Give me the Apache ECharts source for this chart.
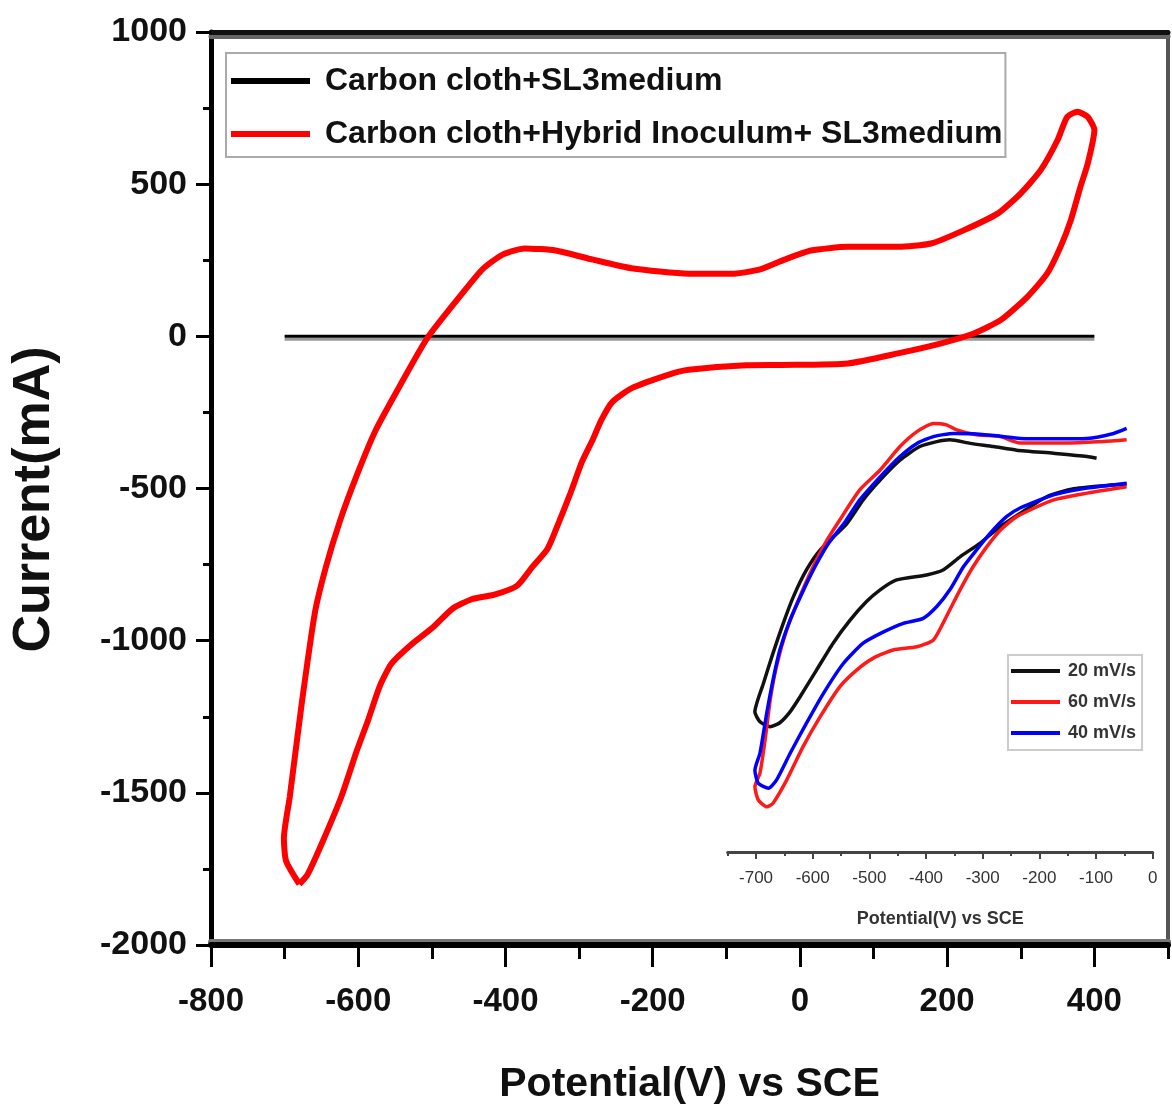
<!DOCTYPE html>
<html><head><meta charset="utf-8">
<script src="https://cdn.jsdelivr.net/npm/echarts@6/dist/echarts.min.js"></script>
<style>html,body{margin:0;padding:0;background:#fff}#c{width:1172px;height:1114px}</style>
</head><body><div id="c"></div>
<script>
const WIDE = '"Liberation Sans",Arial,sans-serif';

// ---- main chart data (Potential mV, Current mA) ----
const mainNames = ['Carbon cloth+SL3medium', 'Carbon cloth+Hybrid Inoculum+ SL3medium'];
const blackMain = [[-700,0],[-650,0],[-600,0],[-500,0],[-400,0],[-300,0],[-200,0],[-100,0],[0,0],[100,0],[200,0],[300,0],[400,0]];
const redMain = [
  [-680,-1800],[-698,-1724],[-701,-1649],[-693,-1513],[-677,-1211],[-659,-910],[-644,-759],[-625,-608],
  [-602,-457],[-576,-307],[-542,-156],[-506,-5],[-457,146],[-431,221],[-405,267],[-374,289],[-332,282],
  [-281,252],[-229,224],[-151,206],[-89,206],[-53,221],[-21,252],[15,282],[65,294],[133,294],[178,305],
  [223,349],[269,404],[300,470],[327,546],[350,645],[363,721],[377,738],[391,721],[400,678],[391,568],
  [381,491],[368,382],[354,294],[336,207],[309,130],[273,54],[237,10],[192,-23],[133,-56],[65,-89],
  [-25,-94],[-73,-95],[-151,-110],[-177,-125],[-229,-171],[-255,-216],[-270,-276],[-281,-337],[-296,-412],
  [-312,-517],[-327,-608],[-343,-699],[-364,-759],[-384,-819],[-415,-849],[-446,-864],[-472,-895],
  [-498,-955],[-529,-1015],[-555,-1076],[-571,-1151],[-586,-1257],[-602,-1362],[-623,-1513],[-649,-1664],
  [-669,-1769],[-680,-1800]
];

// ---- inset data (Potential mV, current in arbitrary units; inset y axis unlabeled) ----
const insetNames = ['20 mV/s', '60 mV/s', '40 mV/s'];
const inset20 = [
  [-99,-129],[-116,-125],[-175,-118],[-240,-111],[-281,-103],[-322,-96],[-358,-88],[-381,-92],[-411,-103],
  [-446,-133],[-481,-177],[-511,-221],[-540,-274],[-587,-332],[-611,-376],[-634,-435],[-652,-494],
  [-670,-560],[-687,-627],[-702,-690],[-693,-712],[-675,-723],[-658,-714],[-640,-690],[-622,-656],
  [-593,-597],[-564,-538],[-534,-487],[-505,-446],[-481,-420],[-452,-398],[-399,-387],[-370,-376],
  [-340,-347],[-305,-317],[-269,-280],[-234,-251],[-187,-214],[-146,-198],[-99,-191],[-46,-186]
];
const inset60 = [
  [-46,-88],[-87,-92],[-146,-95],[-234,-95],[-269,-81],[-311,-77],[-346,-66],[-364,-55],[-387,-52],
  [-416,-70],[-446,-103],[-481,-155],[-517,-199],[-552,-265],[-578,-317],[-602,-376],[-625,-442],
  [-646,-509],[-664,-590],[-675,-664],[-684,-752],[-693,-825],[-702,-856],[-696,-885],[-681,-900],
  [-670,-892],[-646,-841],[-617,-767],[-587,-701],[-552,-634],[-522,-597],[-493,-571],[-458,-553],
  [-416,-546],[-387,-531],[-364,-479],[-340,-420],[-317,-369],[-293,-325],[-269,-288],[-240,-258],
  [-175,-221],[-116,-206],[-46,-192]
];
const inset40 = [
  [-46,-63],[-69,-74],[-116,-85],[-175,-86],[-234,-85],[-269,-80],[-311,-75],[-352,-74],[-387,-81],
  [-416,-96],[-446,-125],[-481,-170],[-517,-221],[-543,-270],[-572,-317],[-596,-369],[-619,-428],
  [-640,-487],[-658,-553],[-670,-619],[-681,-692],[-693,-781],[-702,-819],[-696,-848],[-678,-859],
  [-664,-841],[-640,-782],[-611,-715],[-581,-649],[-546,-583],[-511,-538],[-475,-513],[-440,-494],
  [-405,-483],[-381,-457],[-358,-420],[-334,-369],[-311,-332],[-287,-295],[-258,-258],[-234,-239],
  [-175,-210],[-116,-195],[-46,-184]
];
const insetTicks = [-700,-600,-500,-400,-300,-200,-100,0];
const insetMinorTicks = [-750,-650,-550,-450,-350,-250,-150,-50];

const plain = v => String(v);
const chart = echarts.init(document.getElementById('c'), null, {renderer:'canvas'});
const option = {
  animation: false,
  backgroundColor: '#fff',
  grid: [
    {left:211, top:32, right:4, bottom:169},
    {left:727.7, right:19.3, top:400, bottom:262}
  ],
  xAxis: [
    {gridIndex:0, type:'value', min:-800, max:500, interval:200, position:'bottom',
     axisLine:{show:true, onZero:false, lineStyle:{color:'#000', width:6, shadowColor:'#777', shadowOffsetY:-3}},
     axisTick:{show:true, length:22, lineStyle:{color:'#000', width:3}},
     axisLabel:{showMaxLabel:false, margin:40, formatter:plain, fontFamily:WIDE, fontWeight:'bold', fontSize:33, color:'#111'},
     splitLine:{show:false},
     name:'Potential(V) vs SCE', nameLocation:'middle', nameGap:119,
     nameTextStyle:{fontFamily:WIDE, fontWeight:'bold', fontSize:41, color:'#111'}},
    {gridIndex:0, type:'value', min:-800, max:500, interval:100, position:'bottom',
     axisLine:{show:false, onZero:false}, axisTick:{show:true, length:14, lineStyle:{color:'#000', width:3}},
     axisLabel:{show:false}, splitLine:{show:false}},
    {gridIndex:0, type:'value', min:-800, max:500, position:'top',
     axisLine:{show:true, onZero:false, lineStyle:{color:'#111', width:5, shadowColor:'#666', shadowOffsetY:4}},
     axisTick:{show:false}, axisLabel:{show:false}, splitLine:{show:false}},
    {gridIndex:1, type:'value', min:-750, max:0, position:'bottom',
     axisLine:{show:true, onZero:false, lineStyle:{color:'#444', width:3}},
     axisTick:{show:true, length:7, customValues:insetTicks, lineStyle:{color:'#444', width:2}},
     axisLabel:{show:true, customValues:insetTicks, formatter:plain, margin:18, fontFamily:WIDE, fontSize:17, color:'#333'},
     splitLine:{show:false},
     name:'Potential(V) vs SCE', nameLocation:'middle', nameGap:58,
     nameTextStyle:{fontFamily:WIDE, fontWeight:'bold', fontSize:18, color:'#333'}},
    {gridIndex:1, type:'value', min:-750, max:0, position:'bottom',
     axisLine:{show:false, onZero:false},
     axisTick:{show:true, length:4, customValues:insetMinorTicks, lineStyle:{color:'#444', width:2}},
     axisLabel:{show:false}, splitLine:{show:false}}
  ],
  yAxis: [
    {gridIndex:0, type:'value', min:-2000, max:1000, interval:500, position:'left',
     axisLine:{show:true, onZero:false, lineStyle:{color:'#000', width:5}},
     axisTick:{show:true, length:15, lineStyle:{color:'#000', width:3}},
     axisLabel:{margin:24, formatter:plain, fontFamily:WIDE, fontWeight:'bold', fontSize:34, color:'#111'},
     splitLine:{show:false},
     name:'Current(mA)', nameLocation:'middle', nameGap:150,
     nameTextStyle:{fontFamily:WIDE, fontWeight:'bold', fontSize:52, color:'#111', padding:[0,22,0,0]}},
    {gridIndex:0, type:'value', min:-2000, max:1000, interval:250, position:'left',
     axisLine:{show:false, onZero:false}, axisTick:{show:true, length:8, lineStyle:{color:'#000', width:3}},
     axisLabel:{show:false}, splitLine:{show:false}},
    {gridIndex:0, type:'value', min:-2000, max:1000, position:'right',
     axisLine:{show:true, onZero:false, lineStyle:{color:'#555', width:4}},
     axisTick:{show:false}, axisLabel:{show:false}, splitLine:{show:false}},
    {gridIndex:1, type:'value', min:-1000, max:0, show:false}
  ],
  legend: [
    {data: mainNames, orient:'vertical', left:226, top:53, icon:'rect', itemWidth:79, itemHeight:6, itemGap:13,
     padding:[8,3,3,5], borderColor:'#aaa', borderWidth:2, backgroundColor:'#fff',
     textStyle:{fontFamily:WIDE, fontWeight:'bold', fontSize:32, color:'#111', lineHeight:40, padding:[0,0,0,10]}},
    {data: insetNames, orient:'vertical', left:1008, top:655, icon:'rect', itemWidth:49, itemHeight:4, itemGap:11,
     padding:[6,6,7,3], borderColor:'#ccc', borderWidth:2, backgroundColor:'#fff',
     textStyle:{fontFamily:WIDE, fontWeight:'bold', fontSize:18, color:'#333', lineHeight:20, padding:[0,0,0,3]}}
  ],
  series: [
    {type:'line', name:mainNames[0], xAxisIndex:0, yAxisIndex:0, data:blackMain, symbol:'none',
     lineStyle:{color:'#000', width:3, shadowColor:'#999', shadowOffsetY:3}, itemStyle:{color:'#000'}, z:3},
    {type:'line', name:mainNames[1], xAxisIndex:0, yAxisIndex:0, data:redMain, symbol:'none', smooth:0.2,
     lineStyle:{color:'#ff0000', width:6}, itemStyle:{color:'#ff0000'}, z:4},
    {type:'line', name:insetNames[0], xAxisIndex:3, yAxisIndex:3, data:inset20, symbol:'none', smooth:0.2,
     lineStyle:{color:'#111', width:3.5}, itemStyle:{color:'#111'}, z:5},
    {type:'line', name:insetNames[1], xAxisIndex:3, yAxisIndex:3, data:inset60, symbol:'none', smooth:0.2,
     lineStyle:{color:'#ff1a1a', width:3.5}, itemStyle:{color:'#ff1a1a'}, z:5},
    {type:'line', name:insetNames[2], xAxisIndex:3, yAxisIndex:3, data:inset40, symbol:'none', smooth:0.2,
     lineStyle:{color:'#0000ff', width:3.5}, itemStyle:{color:'#0000ff'}, z:6}
  ]
};
chart.setOption(option);
</script></body></html>
